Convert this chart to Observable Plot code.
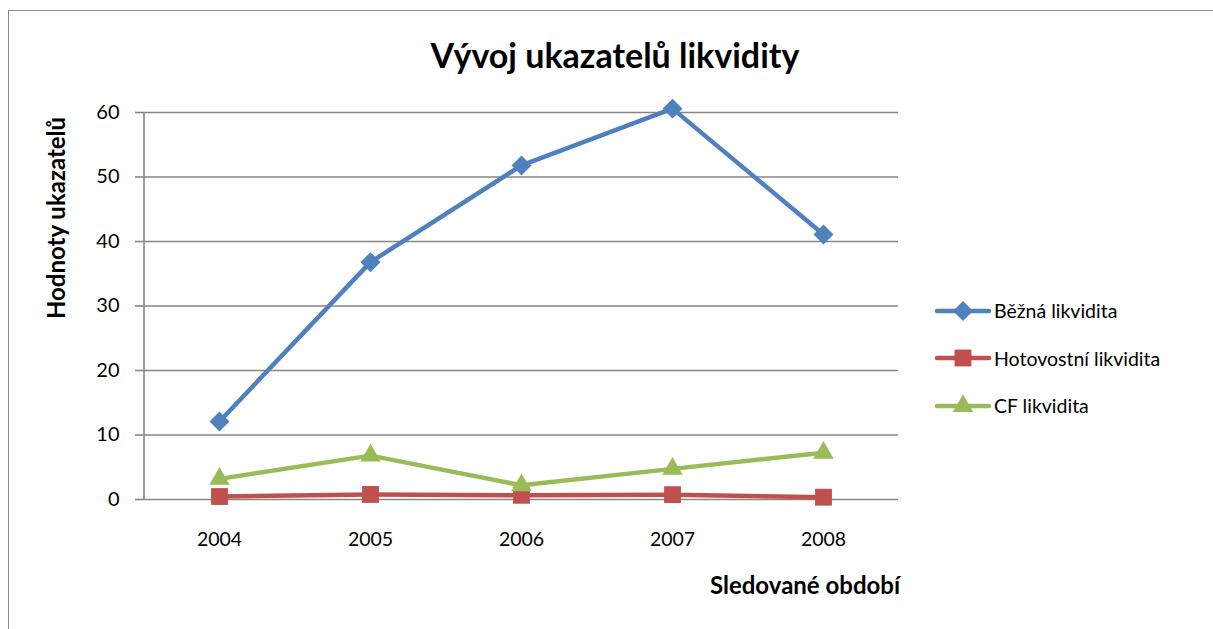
<!DOCTYPE html>
<html>
<head>
<meta charset="utf-8">
<script src="https://cdn.jsdelivr.net/npm/d3@7"></script>
<script src="https://cdn.jsdelivr.net/npm/@observablehq/plot@0.6"></script>
<style>
  html, body { margin: 0; padding: 0; background: #fff; }
  #wrap { position: relative; width: 1213px; height: 629px; overflow: hidden; font-family: Lato, "Open Sans", sans-serif; }
  #frame { position: absolute; left: 8px; top: 10px; width: 1300px; height: 700px; border-left: 1.5px solid #8a8a8a; border-top: 1.5px solid #8a8a8a; }
  #title { position: absolute; left: 615px; top: 34px; transform: translateX(-50%); font-weight: bold; font-size: 34px; color: #000; white-space: nowrap; }
  #ylab { position: absolute; left: 55px; top: 218px; transform: translate(-50%, -50%) rotate(-90deg); font-weight: bold; font-size: 24px; white-space: nowrap; }
  #xlab { position: absolute; left: 805px; top: 570px; transform: translateX(-50%); font-weight: bold; font-size: 24px; white-space: nowrap; }
  #legend { position: absolute; left: 934px; top: 287px; }
  .li { display: flex; align-items: center; height: 47.5px; font-size: 19.5px; }
  .li svg { margin-right: 2px; }
  #chart { position: absolute; left: 0; top: 0; }
</style>
</head>
<body>
<div id="wrap">
  <div id="frame"></div>
  <div id="chart"></div>
  <div id="title">Vývoj ukazatelů likvidity</div>
  <div id="ylab">Hodnoty ukazatelů</div>
  <div id="xlab">Sledované období</div>
  <div id="legend"></div>
</div>
<script>
const years = ["2004", "2005", "2006", "2007", "2008"];
const seriesNames = ["Běžná likvidita", "Hotovostní likvidita", "CF likvidita"];
const bezna = [12.1, 36.8, 51.8, 60.6, 41.1];
const hotovostni = [0.46, 0.78, 0.65, 0.75, 0.36];
const cf = [3.2, 6.8, 2.2, 4.75, 7.25];
const yTicks = [0, 10, 20, 30, 40, 50, 60];
const colors = ["#4F81BD", "#C0504D", "#9BBB59"];
const symbols = ["diamond2", "square", "triangle"];
const radii = [9, 9.5, 7.6];

const valuesList = [bezna, hotovostni, cf];
const data = [];
seriesNames.forEach((s, i) => years.forEach((y, j) => data.push({series: s, year: y, value: valuesList[i][j]})));

const marks = [
  Plot.ruleY(yTicks, {stroke: "#868686", strokeWidth: 1.6, strokeOpacity: 1}),
  Plot.ruleX([0], {x: () => years[0], dx: -75.5, y1: 0, y2: 60, stroke: "#868686", strokeWidth: 1.6}),
  Plot.axisY(yTicks, {tickSize: 8, tickPadding: 16, fontSize: 20, stroke: "#868686", strokeWidth: 1.6, strokeOpacity: 1, fill: "#000", label: null}),
  Plot.axisX({tickSize: 0, tickPadding: 33, fontSize: 19.5, fill: "#000", label: null})
];
seriesNames.forEach((s, i) => {
  const d = data.filter(r => r.series === s);
  marks.push(Plot.line(d, {x: "year", y: "value", stroke: colors[i], strokeWidth: 4.5, strokeLinejoin: "round"}));
  marks.push(Plot.dot(d, {x: "year", y: "value", symbol: () => symbols[i], r: radii[i], fill: colors[i], stroke: "none"}));
});

const chart = Plot.plot({
  width: 1213,
  height: 629,
  marginLeft: 143,
  marginRight: 315,
  marginTop: 112,
  marginBottom: 130,
  style: {fontFamily: "Lato, 'Open Sans', sans-serif", background: "transparent", overflow: "visible"},
  x: {type: "point", domain: years, padding: 0.5},
  y: {domain: [0, 60]},
  symbol: {type: "identity"},
  marks
});
document.getElementById("chart").appendChild(chart);

// legend
const leg = document.getElementById("legend");
seriesNames.forEach((s, i) => {
  const row = document.createElement("div");
  row.className = "li";
  const sym = d3.symbol(i === 0 ? d3.symbolDiamond2 : i === 1 ? d3.symbolSquare : d3.symbolTriangle, Math.PI * radii[i] * radii[i])();
  row.innerHTML = `<svg width="58" height="24"><line x1="3" x2="55" y1="12" y2="12" stroke="${colors[i]}" stroke-width="4.5" stroke-linecap="round"/><path d="${sym}" transform="translate(29,12)" fill="${colors[i]}"/></svg><span>${s}</span>`;
  leg.appendChild(row);
});
</script>
</body>
</html>
